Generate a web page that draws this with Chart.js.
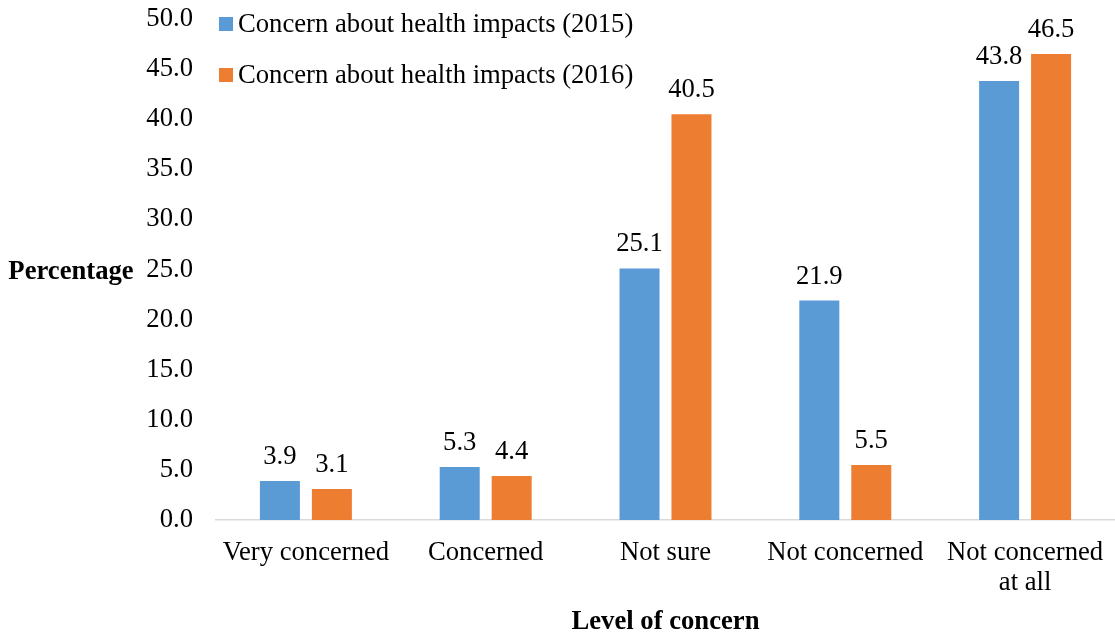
<!DOCTYPE html>
<html><head><meta charset="utf-8">
<script src="https://cdn.jsdelivr.net/npm/chart.js@4"></script>
<style>html,body{margin:0;padding:0;background:#fff}#wrap{width:1115px;height:636px}</style>
</head><body><div id="wrap"><canvas id="c" width="1115" height="636"></canvas></div>
<script>
const categories = [["Very concerned"], ["Concerned"], ["Not sure"], ["Not concerned"], ["Not concerned", "at all"]];
const series2015 = [3.9, 5.3, 25.1, 21.9, 43.8];
const series2016 = [3.1, 4.4, 40.5, 5.5, 46.5];
const seriesNames = ["Concern about health impacts (2015)", "Concern about health impacts (2016)"];
const yTitle = "Percentage";
const xTitle = "Level of concern";

const FONT = "'Liberation Serif', 'Times New Roman', serif";
const FS = 26.67;

const extras = {
  id: 'extras',
  afterDatasetsDraw(chart) {
    const ctx = chart.ctx;
    ctx.save();
    ctx.fillStyle = '#000';
    ctx.font = FS + 'px ' + FONT;
    ctx.textAlign = 'center';
    ctx.textBaseline = 'alphabetic';
    chart.data.datasets.forEach((ds, i) => {
      const meta = chart.getDatasetMeta(i);
      meta.data.forEach((bar, j) => {
        ctx.fillText(ds.data[j].toFixed(1), bar.x, bar.y - 17);
      });
    });
    // legend
    ctx.textAlign = 'left';
    ctx.textBaseline = 'middle';
    const lx = chart.chartArea.left + 3;
    const ly = [24, 75];
    chart.data.datasets.forEach((ds, i) => {
      ctx.fillStyle = ds.backgroundColor;
      ctx.fillRect(lx, ly[i] - 7, 14, 14);
      ctx.fillStyle = '#000';
      ctx.fillText(ds.label, lx + 19, ly[i] + 1);
    });
    // axis titles
    ctx.font = 'bold ' + FS + 'px ' + FONT;
    ctx.textAlign = 'center';
    ctx.fillText(yTitle, 71, 272);
    const ca = chart.chartArea;
    ctx.fillText(xTitle, (ca.left + ca.right) / 2, 622);
    ctx.restore();
  }
};

new Chart(document.getElementById('c'), {
  type: 'bar',
  data: {
    labels: categories,
    datasets: [
      { label: seriesNames[0], data: series2015, backgroundColor: '#5B9BD5', barPercentage: 0.77, categoryPercentage: 0.578 },
      { label: seriesNames[1], data: series2016, backgroundColor: '#ED7D31', barPercentage: 0.77, categoryPercentage: 0.578 }
    ]
  },
  options: {
    responsive: false,
    animation: false,
    layout: { padding: { left: 140, top: 19, right: 0, bottom: 0 } },
    plugins: { legend: { display: false }, tooltip: { enabled: false } },
    scales: {
      x: {
        grid: { display: false, drawTicks: false },
        border: { display: true, color: '#D9D9D9', width: 1.5 },
        ticks: { color: '#000', font: { family: FONT, size: FS, lineHeight: 1.125 }, padding: 18, maxRotation: 0, autoSkip: false },
        afterFit(s) { s.height = 116; s.paddingLeft = 0; s.paddingRight = 0; }
      },
      y: {
        min: 0, max: 50,
        grid: { display: false, drawTicks: false },
        border: { display: false },
        ticks: { stepSize: 5, color: '#000', font: { family: FONT, size: FS }, padding: 23, callback: v => v.toFixed(1) },
        afterFit(s) { s.width = 76; s.paddingTop = 0; s.paddingBottom = 0; }
      }
    }
  },
  plugins: [extras]
});
</script>
</body></html>
